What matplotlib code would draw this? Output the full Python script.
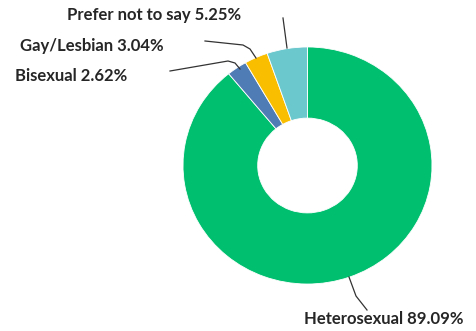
import matplotlib
matplotlib.use("Agg")
import matplotlib.pyplot as plt

categories = ["Heterosexual", "Bisexual", "Gay/Lesbian", "Prefer not to say"]
values = [89.09, 2.62, 3.04, 5.25]
colors = ["#00BF6F", "#507CB6", "#F9BE00", "#6BC8CD"]
labels = [f"{c} {v:.2f}%" for c, v in zip(categories, values)]

W, H = 477, 331
fig = plt.figure(figsize=(W / 100, H / 100), dpi=100)
ax = fig.add_axes([0, 0, 1, 1])
yscale = 0.952

cx, cy_pix = 307.5, 165.5
R = 124.5
ax.pie(values, colors=colors, startangle=90, counterclock=False,
       center=(cx, (H - cy_pix) / yscale), radius=R,
       wedgeprops=dict(width=R * 0.6, edgecolor="white", linewidth=0.6),
       frame=True)
ax.set_aspect("auto")
ax.set_xlim(0, W)
ax.set_ylim(0, H / yscale)
ax.axis("off")

def fp(x, y):
    return x / W, 1 - y / H

# leader lines (pixel coords, top-left origin)
leaders = {
    "Heterosexual": [(349, 277), (356, 296), (367, 310)],
    "Bisexual": [(170, 71), (228, 61), (235, 63), (240, 69)],
    "Gay/Lesbian": [(205, 41), (243, 45), (250, 49), (256, 58)],
    "Prefer not to say": [(283, 18), (287, 48)],
}
text_pos = {
    "Heterosexual": (304, 319),
    "Bisexual": (15, 76),
    "Gay/Lesbian": (20, 46),
    "Prefer not to say": (67, 15),
}
for cat, lab in zip(categories, labels):
    pts = [fp(*p) for p in leaders[cat]]
    fig.add_artist(plt.Line2D([p[0] for p in pts], [p[1] for p in pts],
                              transform=fig.transFigure, color="#333333", lw=0.9))
    tx, ty = fp(*text_pos[cat])
    fig.text(tx, ty, lab, ha="left", va="center", fontsize=12,
             fontweight="bold", color="#262626", family="Lato")

fig.savefig("out.png", dpi=100, facecolor="white")
